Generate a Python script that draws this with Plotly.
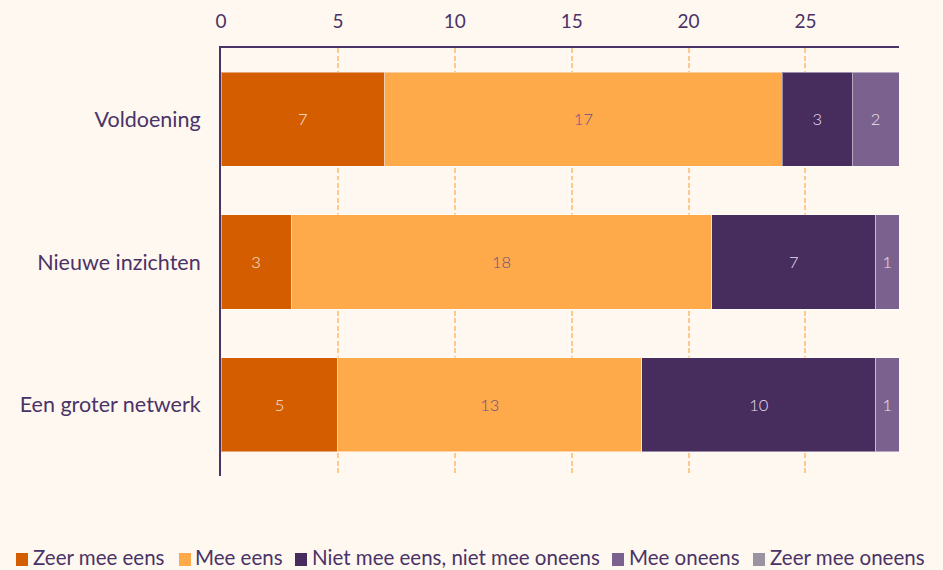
import plotly.graph_objects as go

categories = ["Voldoening", "Nieuwe inzichten", "Een groter netwerk"]
series_names = ["Zeer mee eens", "Mee eens", "Niet mee eens, niet mee oneens", "Mee oneens", "Zeer mee oneens"]
zeer_mee_eens = [7, 3, 5]
mee_eens = [17, 18, 13]
neutraal = [3, 7, 10]
mee_oneens = [2, 1, 1]
zeer_mee_oneens = [0, 0, 0]
x_ticks = [0, 5, 10, 15, 20, 25]

values = [zeer_mee_eens, mee_eens, neutraal, mee_oneens, zeer_mee_oneens]
colors = ["#D45D00", "#FFAA4A", "#472C5E", "#7B618E", "#9A93A0"]
text_colors = ["#F7E6D8", "#6A4F84", "#E8DDEF", "#EDE4F2", "#F2EEF4"]

BG = "#FFF8F1"
INK = "#4A3366"

W, H = 943, 570
ML, MR, MT, MB = 221, 44, 48, 94
PW, PH = W - ML - MR, H - MT - MB

fig = go.Figure()
for name, vals, c, tc in zip(series_names, values, colors, text_colors):
    fig.add_trace(go.Bar(
        y=categories, x=vals, name=name, orientation="h",
        marker=dict(color=c, line=dict(color="rgba(255,255,255,0.45)", width=1)),
        text=[str(v) if v else "" for v in vals],
        textposition="inside", insidetextanchor="middle",
        textfont=dict(family="Lato", size=16.5, color=tc, weight=300),
        width=0.66, showlegend=False,
    ))

# custom single-line legend (squares + text)
legend_square_px = [16, 179, 295, 612, 753]
legend_text_px = [31, 193, 310, 627, 768]
legend_cy = 557
shapes = []
annotations = []
for name, c, sx, tx in zip(series_names, colors, legend_square_px, legend_text_px):
    shapes.append(dict(type="rect", xref="paper", yref="paper",
                       x0=(sx - ML) / PW, x1=(sx + 12 - ML) / PW,
                       y0=(H - MB - (legend_cy + 9)) / PH, y1=(H - MB - (legend_cy - 4)) / PH,
                       fillcolor=c, line=dict(width=0)))
    annotations.append(dict(text=name, xref="paper", yref="paper",
                            x=(tx - ML) / PW, y=(H - MB - legend_cy) / PH,
                            xanchor="left", yanchor="middle", showarrow=False,
                            font=dict(family="Lato", size=20.5, color=INK)))

fig.update_layout(
    barmode="stack",
    width=W, height=H,
    paper_bgcolor=BG, plot_bgcolor=BG,
    margin=dict(l=ML, r=MR, t=MT, b=MB, autoexpand=False),
    font=dict(family="Lato", color=INK),
    showlegend=False,
    shapes=shapes, annotations=annotations,
    xaxis=dict(side="top", range=[0, 29], tickvals=x_ticks, ticktext=[str(t) for t in x_ticks],
               showgrid=True, gridcolor="#FFC98A", griddash="5px,2.5px", gridwidth=1.5,
               showline=True, linecolor=INK, linewidth=2, mirror=False,
               zeroline=False, ticks="", tickfont=dict(family="Lato", size=19, color=INK),
               ticklabelstandoff=10),
    yaxis=dict(autorange="reversed", showline=True, linecolor=INK, linewidth=2,
               showgrid=False, ticks="", tickfont=dict(family="Lato", size=21.5, color=INK),
               ticklabelstandoff=14),
)

fig.write_html("out.html", config={"displayModeBar": False},
               post_script="document.body.style.margin='0';document.body.style.background='%s';" % BG)
